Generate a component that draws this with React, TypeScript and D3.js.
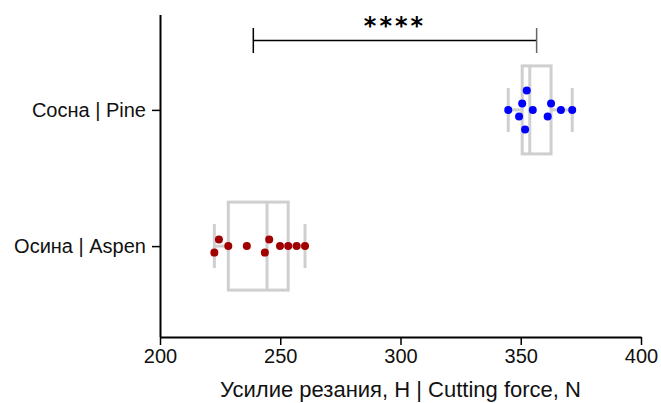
import React from "react";
import * as d3 from "d3";

// categories top to bottom
const categories = ["Сосна | Pine", "Осина | Aspen"];

// cutting force, N
const pineValues = [352.5, 350.6, 344.8, 349.3, 355.0, 351.8, 362.6, 361.2, 366.7, 371.4];
const pineDodge = [-3, -1, 0, 1, 0, 3, -1, 1, 0, 0];
const aspenValues = [224.5, 222.6, 228.4, 236.1, 245.4, 243.6, 249.9, 253.3, 256.8, 260.3];
const aspenDodge = [-1, 1, 0, 0, -1, 1, 0, 0, 0, 0];
const seriesColors = ["#0000ff", "#a00000"];

const xTicks = [200, 250, 300, 350, 400];
const bracket = [238.8, 356.6];
const significance = "****";

const W = 661;
const H = 403;
const margin = { top: 15, right: 20, bottom: 66, left: 160 };

// quartiles as medians of lower/upper halves
function stats(vals: number[]) {
  const s = [...vals].sort((a, b) => a - b);
  const n = s.length;
  const half = Math.floor(n / 2);
  const lower = s.slice(0, half);
  const upper = s.slice(n % 2 ? half + 1 : half);
  return {
    min: s[0],
    max: s[n - 1],
    median: d3.median(s) as number,
    q1: d3.median(lower) as number,
    q3: d3.median(upper) as number,
  };
}

export default function App() {
  const axisRef = React.useRef<SVGGElement>(null);

  const x = d3.scaleLinear().domain([200, 400]).range([margin.left, W - margin.right]);
  const y = d3
    .scalePoint<string>()
    .domain(categories)
    .range([20, 336])
    .padding(0.66);

  const series = [
    { cat: categories[0], values: pineValues, dodge: pineDodge, color: seriesColors[0] },
    { cat: categories[1], values: aspenValues, dodge: aspenDodge, color: seriesColors[1] },
  ];

  const axisY = H - margin.bottom;

  React.useEffect(() => {
    document.body.style.margin = "0";
    const g = d3.select(axisRef.current);
    g.selectAll("*").remove();

    const xg = g.append("g").attr("transform", `translate(0,${axisY})`);
    xg.call(d3.axisBottom(x).tickValues(xTicks).tickSize(8).tickSizeOuter(0).tickPadding(4));
    const yg = g.append("g").attr("transform", `translate(${margin.left},0)`);
    yg.call(d3.axisLeft(y).tickSize(8).tickSizeOuter(0).tickPadding(6));
    yg.select(".domain").remove();
    yg.append("line")
      .attr("x1", 0.5)
      .attr("x2", 0.5)
      .attr("y1", margin.top)
      .attr("y2", axisY)
      .attr("stroke", "#000")
      .attr("stroke-width", 2);

    g.selectAll(".tick text")
      .attr("font-family", "Liberation Sans, Arial, sans-serif")
      .attr("font-size", 20)
      .attr("fill", "#111");
    xg.selectAll(".tick line").attr("stroke-width", 1.5);
    xg.select(".domain").attr("stroke-width", 2);
    yg.selectAll(".tick line").attr("stroke-width", 1.5);
  }, []);

  const boxHalf = 44;
  const whiskHalf = 22;
  const step = 6.5;
  const grey = "#cfcfcf";

  return (
    <svg width={W} height={H} style={{ display: "block", background: "#fff" }}>
      {series.map((s) => {
        const st = stats(s.values);
        const cy = y(s.cat) as number;
        return (
          <g key={s.cat}>
            <rect
              x={x(st.q1)}
              y={cy - boxHalf}
              width={x(st.q3) - x(st.q1)}
              height={boxHalf * 2}
              fill="none"
              stroke={grey}
              strokeWidth={3}
            />
            <line x1={x(st.median)} x2={x(st.median)} y1={cy - boxHalf} y2={cy + boxHalf} stroke={grey} strokeWidth={3} />
            <line x1={x(st.min)} x2={x(st.q1)} y1={cy} y2={cy} stroke={grey} strokeWidth={3} />
            <line x1={x(st.q3)} x2={x(st.max)} y1={cy} y2={cy} stroke={grey} strokeWidth={3} />
            <line x1={x(st.min)} x2={x(st.min)} y1={cy - whiskHalf} y2={cy + whiskHalf} stroke={grey} strokeWidth={3} />
            <line x1={x(st.max)} x2={x(st.max)} y1={cy - whiskHalf} y2={cy + whiskHalf} stroke={grey} strokeWidth={3} />
            {s.values.map((v, i) => (
              <circle key={i} cx={x(v)} cy={cy + s.dodge[i] * step} r={4} fill={s.color} />
            ))}
          </g>
        );
      })}

      <g stroke="#000" strokeWidth={1.5}>
        <line x1={x(bracket[0])} x2={x(bracket[1])} y1={40.5} y2={40.5} />
        <line x1={x(bracket[0])} x2={x(bracket[0])} y1={28} y2={53} />
        <line x1={x(bracket[1])} x2={x(bracket[1])} y1={28} y2={53} stroke="#666" />
      </g>
      <text
        x={(x(bracket[0]) + x(bracket[1])) / 2}
        y={34}
        textAnchor="middle"
        fontFamily="DejaVu Sans, sans-serif"
        fontWeight="bold"
        fontSize={24}
        letterSpacing={3}
      >
        {significance}
      </text>

      <g ref={axisRef} />

      <text
        x={(margin.left + W - margin.right) / 2}
        y={397}
        textAnchor="middle"
        fontFamily="Liberation Sans, Arial, sans-serif"
        fontSize={22}
        fill="#111"
      >
        Усилие резания, Н | Cutting force, N
      </text>
    </svg>
  );
}
